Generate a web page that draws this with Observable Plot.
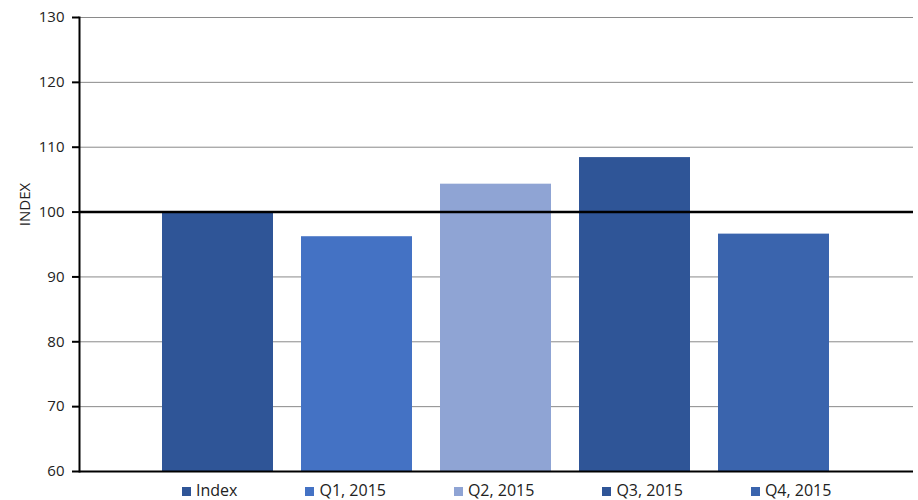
<!DOCTYPE html>
<html><head><meta charset="utf-8">
<script src="https://cdn.jsdelivr.net/npm/d3@7"></script>
<script src="https://cdn.jsdelivr.net/npm/@observablehq/plot@0.6"></script>
<style>
body{margin:0;background:#fff;font-family:"Open Sans",sans-serif;}
#legend{display:flex;gap:68px;padding-left:182px;width:736px;height:20px;}
.item{height:20px;line-height:20px;font-size:16px;color:#222;white-space:nowrap;}
.sw{display:inline-block;width:9px;height:9px;margin-right:5px;vertical-align:0px;}
</style></head><body><div id="chart"></div><div id="legend"></div>
<script>
const categories = ["Index", "Q1, 2015", "Q2, 2015", "Q3, 2015", "Q4, 2015"];
const values = [100, 96.2, 104.3, 108.4, 96.6];
const colors = ["#2F5597", "#4472C4", "#8FA4D4", "#2F5597", "#3A64AD"];
const yTicks = [60, 70, 80, 90, 100, 110, 120, 130];
const referenceValue = [100];
const baseline = 60;

const data = categories.map((c, i) => ({category: c, value: values[i]}));

const chart = Plot.plot({
  width: 918, height: 480,
  marginTop: 17, marginBottom: 9, marginLeft: 79, marginRight: 5,
  style: {fontFamily: "'Open Sans', sans-serif", fontSize: "15px", color: "#222", background: "#fff"},
  x: {domain: categories, paddingInner: 0.2, paddingOuter: 0.6, axis: null},
  y: {domain: [60, 130], label: null},
  color: {domain: categories, range: colors},
  marks: [
    Plot.gridY(yTicks, {stroke: "#8a8a8a", strokeOpacity: 1, strokeWidth: 1}),
    Plot.barY(data, {x: "category", y1: baseline, y2: "value", fill: "category"}),
    Plot.ruleY(referenceValue, {stroke: "#000", strokeWidth: 2.5}),
    Plot.ruleY([baseline], {stroke: "#000", strokeWidth: 2}),
    Plot.axisY(yTicks, {tickSize: 7, tickPadding: 8, stroke: "#000", strokeWidth: 2, fill: "#222", label: null}),
    Plot.frame({anchor: "left", stroke: "#000", strokeWidth: 2}),
    Plot.text(["INDEX"], {frameAnchor: "left", dx: -54, dy: -40, rotate: -90, fontSize: 15, fill: "#222", textAnchor: "middle"})
  ]
});
document.getElementById("chart").appendChild(chart);

const legend = document.getElementById("legend");
categories.forEach((c, i) => {
  const it = document.createElement("div");
  it.className = "item";
  const sw = document.createElement("span");
  sw.className = "sw";
  sw.style.background = colors[i];
  it.appendChild(sw);
  it.appendChild(document.createTextNode(c));
  legend.appendChild(it);
});
</script></body></html>
